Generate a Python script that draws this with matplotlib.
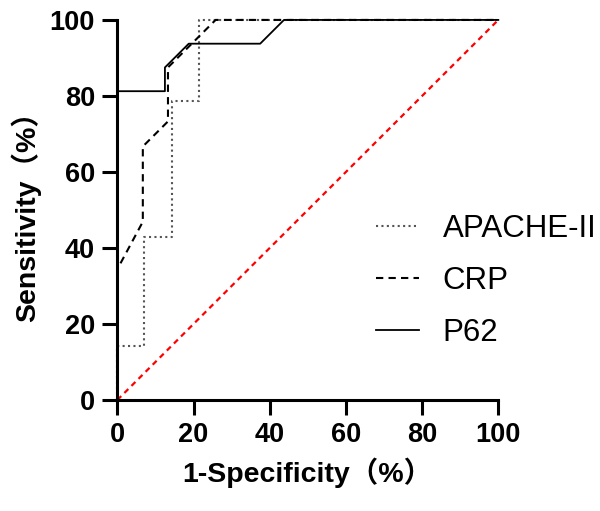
import matplotlib
matplotlib.use("Agg")
import matplotlib.pyplot as plt

# ROC curve points (1-specificity %, sensitivity %)
apache_x = [0, 0, 7.1, 7.1, 14.3, 14.3, 21.4, 21.4, 100]
apache_y = [0, 14.3, 14.3, 42.9, 42.9, 78.6, 78.6, 100, 100]

crp_x = [0, 0, 6.7, 6.7, 13.3, 13.3, 25.8, 100]
crp_y = [0, 34.4, 46.9, 66.7, 73.3, 87.5, 100, 100]

p62_x = [0, 0, 12.5, 12.5, 18.75, 37.5, 43.75, 100]
p62_y = [0, 81.25, 81.25, 87.5, 93.75, 93.75, 100, 100]

ref_x = [0, 100]
ref_y = [0, 100]

ticks = [0, 20, 40, 60, 80, 100]

FONTS = ['Liberation Sans', 'Noto Sans CJK SC', 'DejaVu Sans']
plt.rcParams['font.family'] = FONTS

fig = plt.figure(figsize=(6, 5.11), dpi=100)
ax = fig.add_axes([0.1955, 0.2172, 0.635, 0.7438])

ax.plot(apache_x, apache_y, color='#555555', lw=1.5, linestyle=(0, (1, 1.6)),
        label='APACHE-II', clip_on=False)
ax.plot(crp_x, crp_y, color='black', lw=1.5, linestyle=(0, (3.5, 2.5)),
        label='CRP', clip_on=False)
ax.plot(p62_x, p62_y, color='black', lw=1.3, label='P62', clip_on=False)
ax.plot(ref_x, ref_y, color='red', lw=1.6, linestyle=(0, (2.5, 2)), clip_on=False)

ax.set_xlim(0, 100)
ax.set_ylim(0, 100)
ax.set_xticks(ticks)
ax.set_yticks(ticks)
for s in ['top', 'right']:
    ax.spines[s].set_visible(False)
for s in ['left', 'bottom']:
    ax.spines[s].set_linewidth(2.2)
ax.tick_params(direction='out', length=11, width=2.2, pad=5)
for lab in ax.get_xticklabels() + ax.get_yticklabels():
    lab.set_fontsize(19.5)
    lab.set_fontweight('bold')

ax.set_xlabel('1-Specificity（%）', fontsize=20.5, fontweight='bold', labelpad=7)
ax.set_ylabel('Sensitivity（%）', fontsize=20.5, fontweight='bold', labelpad=6)

ax.legend(loc='upper left', bbox_to_anchor=(0.605, 0.605), bbox_transform=fig.transFigure,
          frameon=False, fontsize=22.5, handlelength=1.4, handletextpad=0.75,
          labelspacing=0.7, borderaxespad=0)

fig.savefig('out.png', dpi=100)
